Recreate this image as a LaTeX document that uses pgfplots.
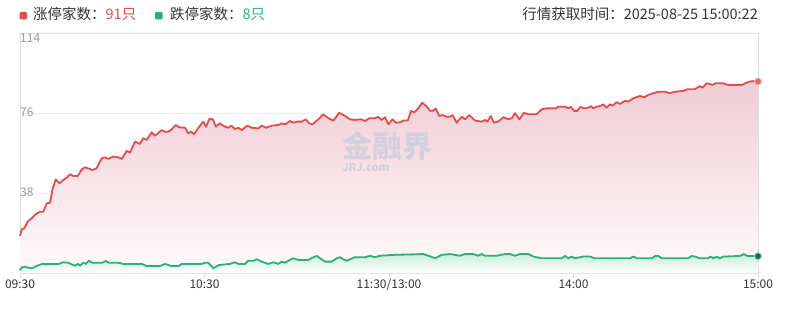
\documentclass[border=0pt]{standalone}
\usepackage{fontspec}
\setmainfont{Noto Sans CJK SC}
\usepackage{pgfplots}
\pgfplotsset{compat=1.18}
\usepackage{pgfplotstable}
\definecolor{upred}{HTML}{E54B4B}
\definecolor{downgreen}{HTML}{2BB07B}
\definecolor{txt}{HTML}{333333}
\definecolor{ylab}{HTML}{999999}
\definecolor{gridc}{HTML}{EEEEEE}
\definecolor{axc}{HTML}{DDDDDD}
\definecolor{redtop}{HTML}{F1CCD5}
\definecolor{redbot}{HTML}{FFFAFB}
\definecolor{greentop}{HTML}{CDEEDD}
\definecolor{wm}{HTML}{D3D1DE}

\pgfplotstableread{
m v
0 17.6
0.6 20.8
1.4 21.2
2.5 24.4
3.8 26
5.1 27.9
6.5 29.1
7.6 29.1
8.7 33.1
9.8 33.4
10.5 39.4
11.6 44.5
12.8 42.6
14.1 44.2
15.2 45.3
16.3 46.9
17.3 46.1
18.8 46.1
20.1 49.2
21.1 50.2
22.2 49.7
23.5 48.9
24.9 49.7
26.6 54.5
27.6 54.9
28.7 54.2
30.3 55.3
32.0 54.9
33.1 54.2
34.7 58
35.8 57.2
37.4 62.4
39.0 61.3
40.1 64
41.2 63.2
42.8 66.8
43.9 65.2
46.1 67.9
47.2 67.1
48.2 67.1
49.3 68.2
50.7 70.3
51.8 69.2
53.7 69
54.7 66.4
55.6 67.1
56.6 66
58.3 69.5
59.6 71.9
60.5 69.5
61.6 73.2
62.7 73
63.7 69.5
64.8 71.1
66.7 69.5
67.7 69
68.8 70
69.9 68.4
71.0 69
72.1 67.9
73.9 70
75.3 69
77.5 68.7
78.6 70
80.0 69
81.9 70
84.0 70.3
85.1 71.1
86.2 70.6
87.8 72.2
88.9 71.4
90.2 71.9
91.6 71.9
92.9 73
94.1 71.1
95.1 70.6
97.0 73
98.6 75.4
100.3 73.5
101.9 72.4
103.8 76.1
105.7 74.6
107.3 73
108.9 72.7
110.9 73
112.2 72.2
113.6 73.5
115.4 73.5
116.5 74.2
117.6 72.7
118.7 74
119.8 70.6
121.1 73
122.2 71.4
123.6 71.6
124.7 72.4
126.1 72.4
127.2 77
128.2 76.3
129.5 78.2
130.8 80.9
132.3 79
133.3 77.1
134.4 77.1
135.2 78.2
136.3 74.6
137.3 75
138.8 74.2
139.8 74.2
140.7 75
142.0 71.4
143.6 74.2
144.7 73
146.1 75
148.0 72.4
150.1 71.9
151.2 72.7
152.0 71.9
153.1 74.6
154.1 71.4
155.5 71.9
157.2 74
158.8 73
159.9 73.5
161.0 75.9
162.4 73
163.9 76.1
165.3 75.4
168.0 75.4
169.7 77.8
171.3 78.2
174.3 78.2
175.1 79
177.2 79
178.3 78.2
179.1 79
180.2 77
181.2 77
182.3 79
183.4 78.2
184.8 78.5
185.7 79.3
186.4 78.2
187.5 79
188.6 79.3
189.7 80.1
190.8 78.5
191.9 80.1
192.7 79.5
194.0 81.1
195.1 80.3
196.7 81.8
197.8 81.4
199.5 83
201.6 84.1
203.0 83.5
204.3 84.6
206.0 85.4
207.6 86.1
209.8 86.1
211.4 85.4
213.0 86.1
215.7 86.5
217.1 87.3
219.5 87.3
221.1 88.8
222.0 88
223.3 90.1
224.4 89.8
225.1 89.3
226.2 90.1
228.7 90.1
230.3 89.3
234.7 89.3
237.1 90.9
239.0 91.2
240 91
}\redtable

\pgfplotstableread{
m v
0 1.2
0.6 2.7
1.6 3
2.7 2.5
3.8 2.2
5.4 3.3
7.1 4.3
12.5 4.3
14.1 5.1
15.7 4.9
16.8 4.1
17.9 3.5
18.8 4.3
19.5 3.5
20.6 4.9
21.4 4.3
22.4 5.8
23.5 4.9
26.8 4.9
27.9 5.7
28.9 4.9
32.0 4.9
33.6 4.3
39.6 4.3
41.2 3.3
45.5 3.3
47.2 4.3
48.2 3.8
49.3 3.3
51.5 3.3
52.6 4.3
59.1 4.3
60.2 4.9
61.2 4.9
62.9 2.2
64.7 3.8
68.3 4.3
69.9 5.1
71.0 4.3
73.2 4.3
74.2 5.8
75.9 5.8
77.0 6.5
78.6 5.4
80.7 4.3
82.4 5.1
84.0 4.3
85.1 5.4
86.2 4.9
87.3 5.8
88.9 7
90.5 6.2
93.8 6.2
95.4 7.5
96.5 8.1
97.6 7
99.2 5.4
101.4 5.4
103.0 7
104.1 7.5
105.1 6.5
106.2 5.8
107.3 6.5
108.9 7.5
112.2 7.5
113.8 8.2
115.4 7.5
117.1 8.2
121.4 8.6
131.2 9
132.8 8.2
135.0 7
137.1 8.6
139.8 9
143.1 8.2
144.7 9
147.4 9
149.0 8.2
150.1 9
151.2 8.2
155.0 8.2
157.7 9
159.3 9
161.0 8.2
162.6 9
165.3 9
167.0 7.8
169.7 7
176.2 7
177.2 8.1
178.3 7
179.4 7.8
180.5 7
183.2 7.8
185.4 7.8
187.0 7
198.4 7
199.5 7.8
200.6 7
205.5 7
206.5 8.1
207.6 8.1
208.7 7
217.3 7
218.4 8.1
219.5 7.8
221.1 7
223.8 7
224.6 7.8
225.5 7
226.6 7.8
227.6 7
228.7 7.8
234.1 8.1
235.4 9
236.5 8.1
239.6 8.1
240 8
}\greentable

\pgfplotstableread{
m v
240 91
}\redend
\pgfplotstableread{
m v
240 8
}\greenend

\begin{document}
\begin{tikzpicture}[x=1pt,y=1pt]
\begin{axis}[
  at={(20pt,38pt)}, anchor=south west,
  scale only axis, width=738pt, height=240pt,
  xmin=0, xmax=240, ymin=0, ymax=114,
  clip=false,
  axis line style={draw=axc},
  xtick={0,60,120,180,240},
  xticklabels={09:30,10:30,11:30/13:00,14:00,15:00},
  xtick pos=bottom,
  tick align=outside,
  major tick length=5pt,
  xtick style={draw=axc},
  xticklabel style={font=\fontsize{12}{14}\selectfont, text=txt, inner sep=0pt, anchor=base, yshift=-10pt},
  ytick={0,38,76,114},
  yticklabels={\smash{\raisebox{3.7pt}{0}},\smash{\raisebox{-3.3pt}{38}},\smash{\raisebox{-3.3pt}{76}},\smash{\raisebox{-9.3pt}{114}}},
  ytick style={draw=none},
  yticklabel style={font=\fontsize{12}{14}\selectfont, text=ylab, inner sep=0pt, anchor=west, xshift=5pt},
  ymajorgrids, major grid style={draw=gridc, line width=0.8pt},
  /pgf/number format/assume math mode=true,
]
\addplot[draw=none, top color=redtop, bottom color=redbot, forget plot] table {\redtable} \closedcycle;
\addplot[draw=none, top color=greentop, bottom color=white, forget plot] table {\greentable} \closedcycle;
\node[text=wm, font=\fontsize{30}{30}\selectfont\bfseries] at (axis cs:119.5,60.5) {金融界};
\node[text=wm, font=\fontsize{11}{11}\selectfont\bfseries] at (axis cs:112.5,50) {JRJ.com};
\addplot[upred, line width=1.8pt, line join=round, no marks] table {\redtable};
\addplot[downgreen, line width=1.8pt, line join=round, no marks] table {\greentable};
\addplot[only marks, mark=*, mark size=3.5pt, mark options={fill=upred!85, draw=upred!40, line width=1pt}] table {\redend};
\addplot[only marks, mark=*, mark size=3.5pt, mark options={fill=downgreen!60!black, draw=downgreen!50, line width=1pt}] table {\greenend};
\end{axis}
\fill[upred, rounded corners=1.2pt] (19.5,291.5) rectangle (27,299);
\node[anchor=base west, inner sep=0pt, font=\fontsize{14.5}{16}\selectfont, text=txt] at (33,291.5) {涨停家数：\textcolor{upred}{91只}};
\fill[downgreen, rounded corners=1.2pt] (155,291.5) rectangle (162.5,299);
\node[anchor=base west, inner sep=0pt, font=\fontsize{14.5}{16}\selectfont, text=txt] at (170,291.5) {跌停家数：\textcolor{downgreen}{8只}};
\node[anchor=base east, inner sep=0pt, font=\fontsize{14.5}{16}\selectfont, text=txt] at (758,291.5) {行情获取时间：2025-08-25 15:00:22};
\pgfresetboundingbox
\path[use as bounding box] (0,0) rectangle (788,311);
\end{tikzpicture}
\end{document}
